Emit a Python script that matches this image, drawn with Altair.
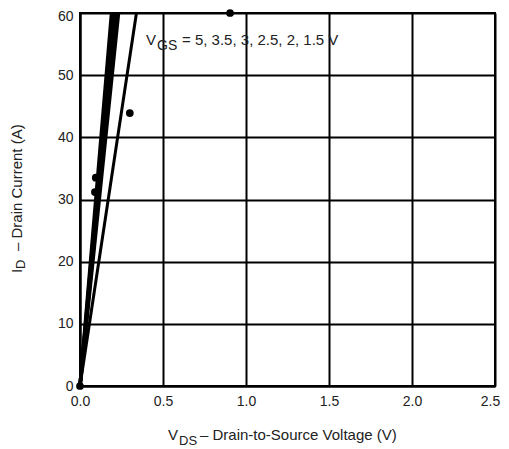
import altair as alt
import pandas as pd

# Data
vgs = [5, 3.5, 3, 2.5, 2, 1.5]
vds_at_60a = [0.19, 0.20, 0.21, 0.22, 0.232, 0.34]
line_width = [3.5, 3.5, 3.5, 3.5, 3.5, 3]

dot_vds = [0.0, 0.095, 0.09, 0.30, 0.904]
dot_id = [0.0, 33.5, 31.2, 43.9, 60.0]

x_ticks = [0.0, 0.5, 1.0, 1.5, 2.0, 2.5]
y_ticks = [0, 10, 20, 30, 40, 50, 60]

rows = []
for g, v, w in zip(vgs, vds_at_60a, line_width):
    rows.append({"vgs": g, "vds": 0.0, "id": 0.0, "w": w})
    rows.append({"vgs": g, "vds": v, "id": 60.0, "w": w})
lines_df = pd.DataFrame(rows)
dots_df = pd.DataFrame({"vds": dot_vds, "id": dot_id})

FONT = "Liberation Sans"
TXT = "#222222"

xs = alt.Scale(domain=[0, 2.5], nice=False)
ys = alt.Scale(domain=[0, 60], nice=False)

x_axis = alt.Axis(values=x_ticks, format=".1f", title=None, grid=True,
                  labelFontSize=14, labelPadding=8, tickSize=0, labelFlush=False,
                  labelOffset=alt.condition("datum.value == 2.5", alt.value(-5), alt.value(0)))
y_axis = alt.Axis(values=y_ticks, format="d", title=None, grid=True,
                  labelFontSize=14, labelPadding=7, tickSize=0, labelFlush=False,
                  labelOffset=alt.condition("datum.value == 60", alt.value(3), alt.value(0)))

lines = alt.Chart(lines_df).mark_line(color="black").encode(
    x=alt.X("vds:Q", scale=xs, axis=x_axis),
    y=alt.Y("id:Q", scale=ys, axis=y_axis),
    detail="vgs:N",
    strokeWidth=alt.StrokeWidth("w:Q", scale=None, legend=None),
)

dots = alt.Chart(dots_df).mark_circle(color="black", opacity=1, size=60, clip=False).encode(
    x=alt.X("vds:Q", scale=xs),
    y=alt.Y("id:Q", scale=ys),
)

def txt(s, x, y, size=15, angle=0):
    return alt.Chart(pd.DataFrame({"t": [s]})).mark_text(
        text=s, align="left", baseline="alphabetic", font=FONT,
        fontSize=size, color=TXT, angle=angle,
    ).encode(x=alt.value(x), y=alt.value(y))

# x-axis title with subscript
xt = [
    txt("V", 88, 427),
    txt("DS", 99, 432, size=13),
    txt("\u2013 Drain-to-Source Voltage (V)", 120, 427),
]
# y-axis title (rotated) with subscript
yt = [
    txt("I", -58, 260, angle=270),
    txt("D", -55, 256, size=13, angle=270),
    txt("\u2013 Drain Current (A)", -58, 238, angle=270),
]
# annotation
ann = [
    txt("V", 66, 32),
    txt("GS", 77, 37, size=14),
    txt("= 5, 3.5, 3, 2.5, 2, 1.5 V", 102, 32),
]

chart = alt.layer(lines, dots, *xt, *yt, *ann).properties(
    width=415, height=373,
    autosize=alt.AutoSizeParams(type="none"),
    padding={"left": 72, "top": 5, "right": 6, "bottom": 62},
).configure_view(
    stroke="black", strokeWidth=2
).configure_axis(
    gridColor="black", gridWidth=2, gridOpacity=1,
    domainColor="black", domainWidth=2,
    labelFont=FONT, labelColor=TXT,
)

chart.save("out.html", embed_options={"renderer": "svg", "actions": False})
